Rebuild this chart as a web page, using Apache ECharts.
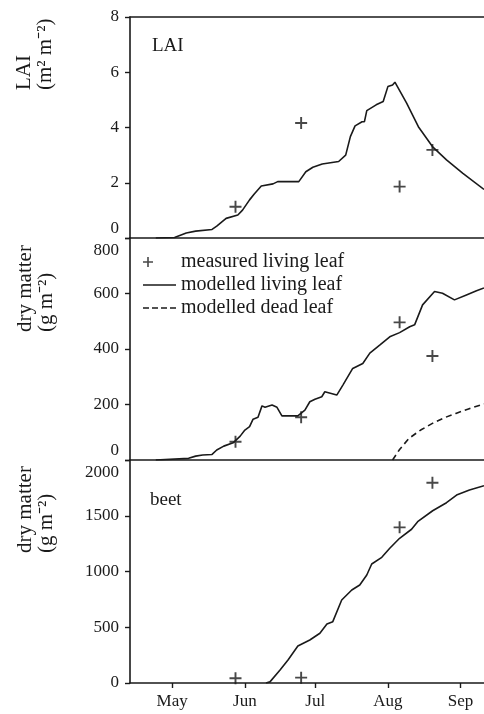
<!DOCTYPE html>
<html>
<head>
<meta charset="utf-8">
<script src="https://cdn.jsdelivr.net/npm/echarts@6/dist/echarts.min.js"></script>
<style>
html, body { margin: 0; padding: 0; background: #fff; }
#chart { width: 484px; height: 714px; }
</style>
</head>
<body>
<div id="chart"></div>
<script>
// x values are day of year
var monthDays = [121, 152, 182, 213, 244];
var monthNames = ['May', 'Jun', 'Jul', 'Aug', 'Sep'];

// LAI panel
var laiDay = [114, 122, 127, 131, 138, 140, 144, 149, 151, 154, 156, 159, 164, 166, 175, 178, 181, 185, 192, 195,
              197, 199, 202, 203, 204, 208, 211, 213, 215, 216, 221, 226, 232, 238, 245, 254];
var laiModel = [0, 0.02, 0.18, 0.25, 0.31, 0.43, 0.71, 0.83, 1.01, 1.38, 1.59, 1.88, 1.96, 2.04, 2.04, 2.40, 2.56, 2.68, 2.77, 3.0,
                3.67, 4.06, 4.21, 4.21, 4.61, 4.82, 4.94, 5.48, 5.54, 5.64, 4.88, 4.03, 3.31, 2.83, 2.34, 1.76];
var laiObsDay = [148, 176, 218, 232];
var laiObs = [1.13, 4.16, 1.86, 3.19];

// leaf dry matter panel
var leafDay = [114, 128, 131, 134, 138, 140, 143, 147, 150, 152, 154, 155.5, 157.6, 159.3, 160.6, 163.6, 165.7, 167.8, 174.6, 177.6,
               179.7, 181.9, 184.8, 186.1, 191.2, 193.8, 198, 202.3, 205.3, 209.5, 213.8, 218, 222.3, 224.4, 227.8, 232.9, 236.3, 241.4, 246.5, 250.8, 254];
var leafLiving = [0, 6, 14, 18, 20, 36, 50, 62, 86, 108, 120, 147, 154, 195, 190, 198, 190, 159, 159, 180,
                  210, 219, 228, 246, 234, 270, 330, 348, 385, 414, 444, 459, 480, 487, 559, 607, 601, 577, 595, 610, 620];
var deadDay = [215, 218, 222, 227, 232, 237, 242, 248, 254];
var leafDead = [0, 38, 78, 108, 132, 152, 168, 186, 202];
var leafObsDay = [148, 176, 218, 232];
var leafObs = [66, 154, 496, 375];

// beet dry matter panel
var beetDay = [161, 162.7, 167, 170.4, 174.6, 179.7, 184, 187, 189.5, 193.3, 197.6, 201, 204, 206.1, 210.4, 213.8, 218, 223.1, 225.7, 232.1,
               238, 242.3, 247.8, 254];
var beetModel = [0, 10, 117, 206, 332, 386, 446, 529, 550, 744, 834, 879, 969, 1067, 1127, 1208, 1298, 1379, 1447, 1545,
                 1617, 1686, 1731, 1770];
var beetObsDay = [148, 176, 218, 232];
var beetObs = [42, 48, 1396, 1796];

function zip(xs, ys) {
    return xs.map(function (x, i) { return [x, ys[i]]; });
}

var FONT = '"Liberation Serif", "Times New Roman", serif';
var INK = '#1a1a1a';
var PLUS = 'path://M4.2,0h1.6v10h-1.6z M0,4.2h10v1.6h-10z';
// legend icons drawn in a 33x10 box so the text lines up after them
var PLUS_LEGEND = 'path://M4.2,0h1.6v10h-1.6zM0,4.2h10v1.6h-10zM32.95,4.97h0.05v0.06h-0.05z';
var LINE_LEGEND = 'path://M0,4.2h33v1.6h-33z';
var DASH_LEGEND = 'path://M0,4.2h6v1.6h-6zM9,4.2h6v1.6h-6zM18,4.2h6v1.6h-6zM27,4.2h6v1.6h-6z';

function xAxisPlain(grid, pos) {
    return {
        gridIndex: grid, type: 'value', min: 103, max: 254, position: pos,
        axisLine: { show: true, onZero: false, lineStyle: { color: INK, width: 1.6 } },
        axisTick: { show: false }, axisLabel: { show: false }, splitLine: { show: false }
    };
}

function yAxisPanel(grid, max, step, shiftLow, shiftHigh) {
    return {
        gridIndex: grid, type: 'value', min: 0, max: max, interval: step,
        axisLine: { show: true, lineStyle: { color: INK, width: 1.6 } },
        axisTick: { show: true, inside: false, length: 5, lineStyle: { color: INK, width: 1.4 } },
        splitLine: { show: false },
        axisLabel: {
            margin: 11, fontSize: 17, fontFamily: FONT, color: INK,
            formatter: function (v) {
                if (shiftLow && v === 0) return '{lo|0}';
                if (shiftHigh && v === max) return '{hi|' + v + '}';
                return '' + v;
            },
            rich: {
                lo: { fontSize: 17, fontFamily: FONT, color: INK, padding: [0, 0, 18, 0] },
                hi: { fontSize: 17, fontFamily: FONT, color: INK, padding: [26, 0, 0, 0] }
            }
        }
    };
}

function axisTitle(text, x, y) {
    return {
        type: 'text', x: x, y: y, rotation: Math.PI / 2,
        style: { text: text, fill: INK, fontSize: 21, fontFamily: FONT, lineHeight: 21, align: 'left', verticalAlign: 'middle' }
    };
}

var bottomAxis = xAxisPlain(2, 'bottom');
bottomAxis.axisTick = { show: true, inside: false, length: 5, customValues: monthDays, lineStyle: { color: INK, width: 1.4 } };
bottomAxis.axisLabel = {
    show: true, margin: 10, fontSize: 17, fontFamily: FONT, color: INK, customValues: monthDays,
    formatter: function (v) { return monthNames[monthDays.indexOf(v)]; }
};

var chart = echarts.init(document.getElementById('chart'));
chart.setOption({
    animation: false,
    backgroundColor: '#fff',
    grid: [
        { left: 130, right: 0, top: 17, height: 221 },
        { left: 130, right: 0, top: 238, height: 222 },
        { left: 130, right: 0, top: 460, height: 223 }
    ],
    xAxis: [
        xAxisPlain(0, 'bottom'),
        xAxisPlain(0, 'top'),
        xAxisPlain(1, 'bottom'),
        bottomAxis
    ],
    yAxis: [
        yAxisPanel(0, 8, 2, true, false),
        yAxisPanel(1, 800, 200, true, true),
        yAxisPanel(2, 2000, 500, false, true)
    ],
    legend: {
        orient: 'vertical', left: 143, top: 252, padding: 0,
        itemWidth: 33, itemHeight: 10, itemGap: 3,
        selectedMode: false,
        textStyle: { fontSize: 20, fontFamily: FONT, color: INK },
        data: [
            { name: 'measured living leaf', icon: PLUS_LEGEND },
            { name: 'modelled living leaf', icon: LINE_LEGEND },
            { name: 'modelled dead leaf', icon: DASH_LEGEND }
        ]
    },
    graphic: [
        axisTitle('LAI\n(m² m⁻²)', 35, 90),
        axisTitle('dry matter\n(g m⁻²)', 36, 332),
        axisTitle('dry matter\n(g m⁻²)', 36, 553),
        { type: 'text', x: 152, y: 46, style: { text: 'LAI', fill: INK, fontSize: 19, fontFamily: FONT, verticalAlign: 'middle' } },
        { type: 'text', x: 150, y: 500, style: { text: 'beet', fill: INK, fontSize: 19, fontFamily: FONT, verticalAlign: 'middle' } }
    ],
    series: [
        {
            name: 'LAI model', type: 'line', xAxisIndex: 0, yAxisIndex: 0, data: zip(laiDay, laiModel),
            showSymbol: false, symbol: 'none', lineStyle: { color: INK, width: 1.6 }
        },
        {
            name: 'LAI measured', type: 'scatter', xAxisIndex: 0, yAxisIndex: 0, data: zip(laiObsDay, laiObs),
            symbol: PLUS, symbolSize: 12, itemStyle: { color: INK }
        },
        {
            name: 'modelled living leaf', type: 'line', xAxisIndex: 2, yAxisIndex: 1, data: zip(leafDay, leafLiving),
            showSymbol: false, symbol: 'none', lineStyle: { color: INK, width: 1.6 }, itemStyle: { color: INK }
        },
        {
            name: 'modelled dead leaf', type: 'line', xAxisIndex: 2, yAxisIndex: 1, data: zip(deadDay, leafDead),
            showSymbol: false, symbol: 'none', lineStyle: { color: INK, width: 1.6, type: [6, 4] }, itemStyle: { color: INK }
        },
        {
            name: 'measured living leaf', type: 'scatter', xAxisIndex: 2, yAxisIndex: 1, data: zip(leafObsDay, leafObs),
            symbol: PLUS, symbolSize: 12, itemStyle: { color: INK }
        },
        {
            name: 'beet model', type: 'line', xAxisIndex: 3, yAxisIndex: 2, data: zip(beetDay, beetModel),
            showSymbol: false, symbol: 'none', lineStyle: { color: INK, width: 1.6 }
        },
        {
            name: 'beet measured', type: 'scatter', xAxisIndex: 3, yAxisIndex: 2, data: zip(beetObsDay, beetObs),
            symbol: PLUS, symbolSize: 12, itemStyle: { color: INK }
        }
    ]
});
</script>
</body>
</html>
